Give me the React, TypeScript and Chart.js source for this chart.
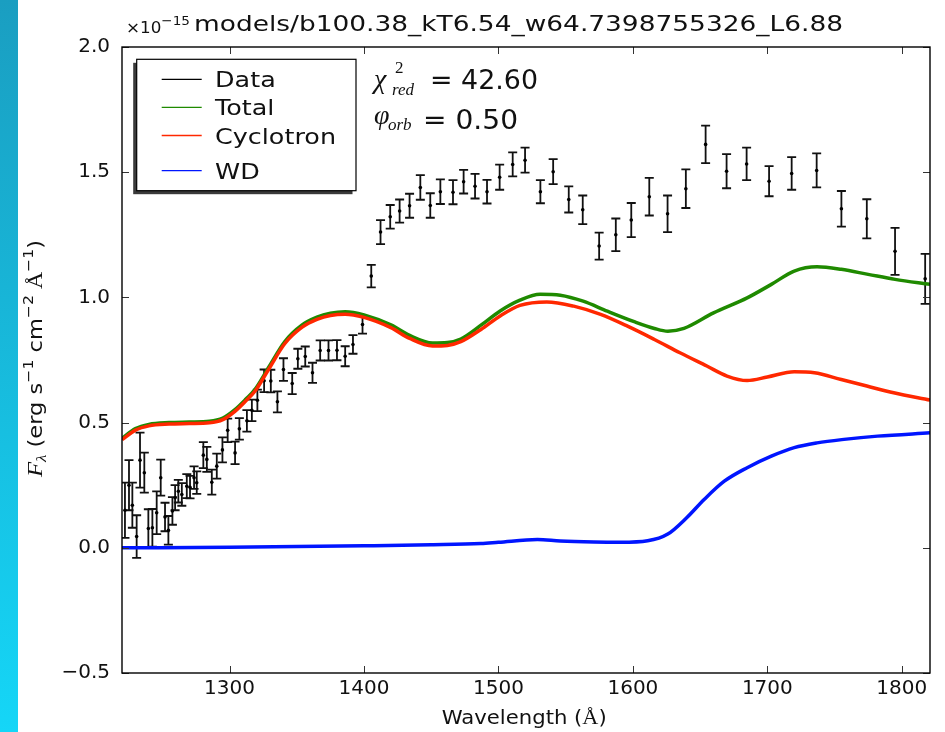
import React, { useEffect, useRef } from 'react';
import { Chart, registerables } from 'chart.js';

Chart.register(...registerables);

// ---------- data ----------
const dataWavelength = [
  1222.2, 1225.2, 1227.7, 1230.9, 1233.4, 1236.6, 1239.6, 1242.6, 1245.8, 1248.8,
  1252.0, 1254.5, 1257.5, 1259.5, 1261.9, 1264.5, 1268.2, 1270.6, 1273.6, 1275.6,
  1280.5, 1283.1, 1286.8, 1290.5, 1294.7, 1298.6, 1304.1, 1307.3, 1312.9, 1316.6,
  1320.7, 1325.7, 1330.7, 1335.6, 1340.1, 1346.6, 1350.8, 1356.3, 1361.7, 1367.4,
  1373.6, 1379.9, 1386.0, 1391.8, 1398.9, 1405.4, 1412.3, 1419.5, 1426.5, 1433.9,
  1441.9, 1449.3, 1456.8, 1466.2, 1474.1, 1482.6, 1491.5, 1500.9, 1510.6, 1519.8,
  1531.2, 1540.7, 1552.3, 1562.7, 1574.9, 1587.3, 1598.8, 1612.2, 1625.8, 1639.4,
  1654.1, 1669.7, 1684.6, 1701.3, 1718.1, 1736.7, 1755.1, 1774.0, 1795.0, 1817.4,
];
const dataFlux = [
  0.15, 0.25, 0.17, 0.045, 0.35, 0.30, 0.077, 0.08, 0.14, 0.28,
  0.123, 0.07, 0.147, 0.20, 0.226, 0.213, 0.246, 0.242, 0.28, 0.26,
  0.37, 0.353, 0.262, 0.326, 0.391, 0.469, 0.379, 0.475, 0.507, 0.549,
  0.589, 0.667, 0.666, 0.583, 0.712, 0.656, 0.755, 0.764, 0.699, 0.788,
  0.788, 0.789, 0.765, 0.812, 0.892, 1.085, 1.261, 1.322, 1.345, 1.366,
  1.439, 1.367, 1.422, 1.42, 1.462, 1.444, 1.422, 1.48, 1.531, 1.548,
  1.422, 1.502, 1.391, 1.35, 1.205, 1.25, 1.309, 1.402, 1.334, 1.434,
  1.611, 1.504, 1.533, 1.464, 1.495, 1.507, 1.354, 1.314, 1.184, 1.074,
];
const dataError = [
  0.11, 0.10, 0.09, 0.085, 0.11, 0.08, 0.077, 0.075, 0.085, 0.072,
  0.057, 0.057, 0.055, 0.05, 0.045, 0.045, 0.048, 0.045, 0.045, 0.045,
  0.052, 0.05, 0.05, 0.05, 0.05, 0.047, 0.045, 0.043, 0.043, 0.043,
  0.043, 0.045, 0.045, 0.042, 0.045, 0.042, 0.04, 0.04, 0.04, 0.04,
  0.04, 0.04, 0.04, 0.037, 0.037, 0.045, 0.048, 0.047, 0.046, 0.048,
  0.049, 0.049, 0.049, 0.048, 0.047, 0.049, 0.047, 0.05, 0.048, 0.05,
  0.046, 0.05, 0.052, 0.057, 0.054, 0.065, 0.068, 0.075, 0.073, 0.077,
  0.075, 0.068, 0.065, 0.06, 0.065, 0.068, 0.071, 0.078, 0.094, 0.10,
];

const totalWavelength = [
  1220, 1230, 1240, 1255, 1270, 1285, 1295, 1304, 1312, 1319, 1329, 1341, 1354, 1365,
  1375, 1386, 1400, 1420, 1434, 1451, 1462, 1472, 1487, 1501, 1516, 1531, 1546, 1563,
  1581, 1601, 1616, 1626, 1638, 1660, 1685, 1703, 1720, 1737, 1755, 1775, 1795, 1821,
];
const totalFlux = [
  0.437, 0.476, 0.493, 0.5, 0.502, 0.505, 0.518, 0.552, 0.593, 0.633, 0.72, 0.823, 0.89, 0.921,
  0.937, 0.943, 0.93, 0.89, 0.848, 0.818, 0.82, 0.834, 0.889, 0.945, 0.989, 1.013, 1.009, 0.985,
  0.945, 0.903, 0.876, 0.865, 0.876, 0.938, 0.998, 1.052, 1.105, 1.122, 1.112, 1.092, 1.072, 1.052,
];

const cycWavelength = [
  1220, 1230, 1240, 1255, 1270, 1285, 1295, 1304, 1312, 1319, 1329, 1341, 1354, 1365,
  1375, 1386, 1400, 1420, 1434, 1451, 1462, 1472, 1487, 1501, 1516, 1536, 1556, 1576,
  1596, 1616, 1635, 1655, 1670, 1685, 1700, 1720, 1735, 1755, 1774, 1794, 1821,
];
const cycFlux = [
  0.432, 0.47, 0.487, 0.494, 0.496, 0.499, 0.512, 0.545, 0.586, 0.626, 0.712, 0.815, 0.881, 0.912,
  0.928, 0.933, 0.92, 0.879, 0.836, 0.806, 0.808, 0.823, 0.872, 0.925, 0.968, 0.982, 0.965, 0.932,
  0.885, 0.832, 0.779, 0.726, 0.686, 0.668, 0.682, 0.703, 0.699, 0.672, 0.646, 0.619, 0.59,
];

const wdWavelength = [
  1220, 1300, 1400, 1450, 1487, 1500, 1529, 1546, 1571, 1591, 1611, 1626, 1640, 1653,
  1668, 1685, 1703, 1720, 1737, 1757, 1782, 1821,
];
const wdFlux = [
  0.0, 0.002, 0.008, 0.012, 0.017, 0.022, 0.033, 0.027, 0.023, 0.022, 0.028, 0.055, 0.12, 0.193,
  0.266, 0.32, 0.366, 0.40, 0.419, 0.433, 0.446, 0.459,
];

const xTicks = [1300, 1400, 1500, 1600, 1700, 1800];
const yTicks = [-0.5, 0.0, 0.5, 1.0, 1.5, 2.0];
const legendLabels = ['Data', 'Total', 'Cyclotron', 'WD'];

const COLORS = { data: '#000000', total: '#1f8a00', cyc: '#ff2800', wd: '#0015ff' };
const SANS = '"DejaVu Sans"';
const SERIF = '"Liberation Serif"';

type Run = { t: string; f: string; dy?: number };

function drawRuns(ctx: CanvasRenderingContext2D, runs: Run[], x: number, y: number, target: number, angle = 0) {
  ctx.save();
  let total = 0;
  const ws = runs.map((r) => {
    ctx.font = r.f;
    const w = ctx.measureText(r.t).width;
    total += w;
    return w;
  });
  ctx.translate(x, y);
  if (angle) ctx.rotate(angle);
  ctx.scale(target / total, 1);
  ctx.textBaseline = 'alphabetic';
  ctx.textAlign = 'left';
  ctx.fillStyle = '#111';
  let cx = 0;
  runs.forEach((r, i) => {
    ctx.font = r.f;
    ctx.fillText(r.t, cx, r.dy || 0);
    cx += ws[i];
  });
  ctx.restore();
}

function plainText(ctx: CanvasRenderingContext2D, t: string, f: string, x: number, y: number) {
  ctx.save();
  ctx.font = f;
  ctx.textAlign = 'left';
  ctx.textBaseline = 'alphabetic';
  ctx.fillStyle = '#111';
  ctx.fillText(t, x, y);
  ctx.restore();
}

const overlayPlugin = {
  id: 'overlay',
  beforeDraw(chart: any) {
    const ctx = chart.ctx as CanvasRenderingContext2D;
    ctx.save();
    ctx.fillStyle = '#ffffff';
    ctx.fillRect(0, 0, chart.width, chart.height);
    const g = ctx.createLinearGradient(0, 0, 0, chart.height);
    g.addColorStop(0, '#1a9ec1');
    g.addColorStop(1, '#15d6f7');
    ctx.fillStyle = g;
    ctx.fillRect(0, 0, 18, chart.height);
    ctx.restore();
  },
  beforeDatasetsDraw(chart: any) {
    const ctx = chart.ctx as CanvasRenderingContext2D;
    const xs = chart.scales.x;
    const ys = chart.scales.y;
    const a = chart.chartArea;
    ctx.save();
    ctx.beginPath();
    ctx.rect(a.left, a.top, a.right - a.left, a.bottom - a.top);
    ctx.clip();
    ctx.strokeStyle = '#111';
    ctx.lineWidth = 1.8;
    for (let i = 0; i < dataWavelength.length; i++) {
      const px = xs.getPixelForValue(dataWavelength[i]);
      const y1 = ys.getPixelForValue(dataFlux[i] + dataError[i]);
      const y2 = ys.getPixelForValue(dataFlux[i] - dataError[i]);
      ctx.beginPath();
      ctx.moveTo(px, y1);
      ctx.lineTo(px, y2);
      ctx.moveTo(px - 4.5, y1);
      ctx.lineTo(px + 4.5, y1);
      ctx.moveTo(px - 4.5, y2);
      ctx.lineTo(px + 4.5, y2);
      ctx.stroke();
    }
    ctx.restore();
  },
  afterDraw(chart: any) {
    const ctx = chart.ctx as CanvasRenderingContext2D;
    const xs = chart.scales.x;
    const ys = chart.scales.y;
    const { left, right, top, bottom } = chart.chartArea;
    ctx.save();
    // inward ticks
    ctx.strokeStyle = '#333';
    ctx.lineWidth = 1;
    xTicks.forEach((v) => {
      const px = Math.round(xs.getPixelForValue(v)) + 0.5;
      ctx.beginPath();
      ctx.moveTo(px, bottom);
      ctx.lineTo(px, bottom - 7);
      ctx.moveTo(px, top);
      ctx.lineTo(px, top + 7);
      ctx.stroke();
    });
    yTicks.forEach((v) => {
      const py = Math.round(ys.getPixelForValue(v)) + 0.5;
      ctx.beginPath();
      ctx.moveTo(left, py);
      ctx.lineTo(left + 7, py);
      ctx.moveTo(right, py);
      ctx.lineTo(right - 7, py);
      ctx.stroke();
    });
    // frame
    ctx.strokeStyle = '#000';
    ctx.lineWidth = 1.4;
    ctx.strokeRect(left, top, right - left, bottom - top);

    // legend
    const bx = 136.7, by = 59.3, bw = 219.3, bh = 131.4;
    ctx.fillStyle = '#3a3a3a';
    ctx.fillRect(bx - 3.5, by + 3.5, bw, bh);
    ctx.fillStyle = '#ffffff';
    ctx.fillRect(bx, by, bw, bh);
    ctx.strokeStyle = '#000';
    ctx.lineWidth = 1.2;
    ctx.strokeRect(bx, by, bw, bh);
    const rows = [79.3, 107.3, 135.5, 170.7];
    const cols = [COLORS.data, COLORS.total, COLORS.cyc, COLORS.wd];
    ctx.font = `22px ${SANS}`;
    const cycW = ctx.measureText('Cyclotron').width;
    const lsx = 121 / cycW;
    legendLabels.forEach((lab, i) => {
      ctx.strokeStyle = cols[i];
      ctx.lineWidth = 1.3;
      ctx.beginPath();
      ctx.moveTo(161.7, rows[i]);
      ctx.lineTo(201.7, rows[i]);
      ctx.stroke();
      ctx.save();
      ctx.font = `22px ${SANS}`;
      ctx.fillStyle = '#111';
      ctx.textBaseline = 'alphabetic';
      ctx.translate(215, rows[i] + 8);
      ctx.scale(lsx, 1);
      ctx.fillText(lab, 0, 0);
      ctx.restore();
    });
    ctx.restore();

    // title offset text and title
    drawRuns(ctx, [
      { t: '\u00d710', f: `16px ${SANS}` },
      { t: '\u221215', f: `13px ${SANS}`, dy: -8 },
    ], 126, 33, 64);
    drawRuns(ctx, [{ t: 'models/b100.38_kT6.54_w64.7398755326_L6.88', f: `22px ${SANS}` }], 194, 31, 649);

    // annotations
    plainText(ctx, '\u03c7', `italic 28px ${SERIF}`, 374, 88);
    plainText(ctx, '2', `17px ${SERIF}`, 395, 73);
    plainText(ctx, 'red', `italic 17px ${SERIF}`, 392, 95);
    drawRuns(ctx, [{ t: '= 42.60', f: `26px ${SANS}` }], 430, 88.5, 108);
    plainText(ctx, '\u03c6', `italic 28px ${SERIF}`, 374, 124);
    plainText(ctx, 'orb', `italic 17px ${SERIF}`, 388, 130);
    drawRuns(ctx, [{ t: '= 0.50', f: `26px ${SANS}` }], 423, 129, 95);

    // x title
    drawRuns(ctx, [
      { t: 'Wavelength (', f: `20px ${SANS}` },
      { t: '\u00c5', f: `21px ${SERIF}` },
      { t: ')', f: `20px ${SANS}` },
    ], 441.7, 724, 165);

    // y title (rotated)
    drawRuns(ctx, [
      { t: 'F', f: `italic 22px ${SERIF}` },
      { t: '\u03bb', f: `italic 15px ${SERIF}`, dy: 4 },
      { t: ' (erg s', f: `20px ${SANS}` },
      { t: '\u22121', f: `14px ${SANS}`, dy: -9 },
      { t: ' cm', f: `20px ${SANS}` },
      { t: '\u22122', f: `14px ${SANS}`, dy: -9 },
      { t: ' \u00c5', f: `21px ${SERIF}` },
      { t: '\u22121', f: `14px ${SANS}`, dy: -9 },
      { t: ')', f: `20px ${SANS}` },
    ], 42, 477, 237, -Math.PI / 2);
  },
};

function toPts(xs: number[], ys: number[]) {
  return xs.map((x, i) => ({ x, y: ys[i] }));
}

export default function App() {
  const ref = useRef<HTMLCanvasElement | null>(null);
  useEffect(() => {
    if (!ref.current) return;
    const lineBase = {
      showLine: true,
      pointRadius: 0,
      borderWidth: 3.5,
      cubicInterpolationMode: 'monotone' as const,
      fill: false,
    };
    const chart = new Chart(ref.current, {
      type: 'scatter',
      data: {
        datasets: [
          { ...lineBase, label: 'WD', data: toPts(wdWavelength, wdFlux), borderColor: COLORS.wd, order: 0 },
          { ...lineBase, label: 'Cyclotron', data: toPts(cycWavelength, cycFlux), borderColor: COLORS.cyc, order: 1 },
          { ...lineBase, label: 'Total', data: toPts(totalWavelength, totalFlux), borderColor: COLORS.total, order: 2 },
          {
            label: 'Data',
            data: toPts(dataWavelength, dataFlux),
            showLine: false,
            pointRadius: 1.8,
            pointBorderWidth: 0,
            backgroundColor: '#000',
            borderColor: '#000',
            order: 3,
          },
        ],
      },
      options: {
        responsive: false,
        maintainAspectRatio: false,
        animation: false,
        devicePixelRatio: 1,
        layout: { padding: { left: 0, top: 47, right: 15, bottom: 0 } },
        plugins: { legend: { display: false }, tooltip: { enabled: false }, title: { display: false } },
        events: [],
        scales: {
          x: {
            type: 'linear',
            min: 1220,
            max: 1821,
            grid: { display: false, drawTicks: false },
            border: { display: false },
            afterBuildTicks: (scale: any) => {
              scale.ticks = xTicks.map((v) => ({ value: v }));
            },
            afterFit: (scale: any) => {
              scale.height = 59;
            },
            ticks: {
              padding: 4,
              color: '#111',
              font: { family: 'DejaVu Sans', size: 20 },
              maxRotation: 0,
              callback: (v: any) => String(v),
            },
          },
          y: {
            type: 'linear',
            min: -0.5,
            max: 2.0,
            grid: { display: false, drawTicks: false },
            border: { display: false },
            afterBuildTicks: (scale: any) => {
              scale.ticks = yTicks.map((v) => ({ value: v }));
            },
            afterFit: (scale: any) => {
              scale.width = 122;
            },
            ticks: {
              padding: 12,
              color: '#111',
              font: { family: 'DejaVu Sans', size: 20 },
              callback: (v: any) => (Number(v) < 0 ? '\u2212' : '') + Math.abs(Number(v)).toFixed(1),
            },
          },
        },
      },
      plugins: [overlayPlugin],
    });
    return () => chart.destroy();
  }, []);
  return (
    <div style={{ position: 'fixed', left: 0, top: 0, width: 945, height: 732, background: '#fff' }}>
      <canvas ref={ref} width={945} height={732} style={{ display: 'block' }} />
    </div>
  );
}
